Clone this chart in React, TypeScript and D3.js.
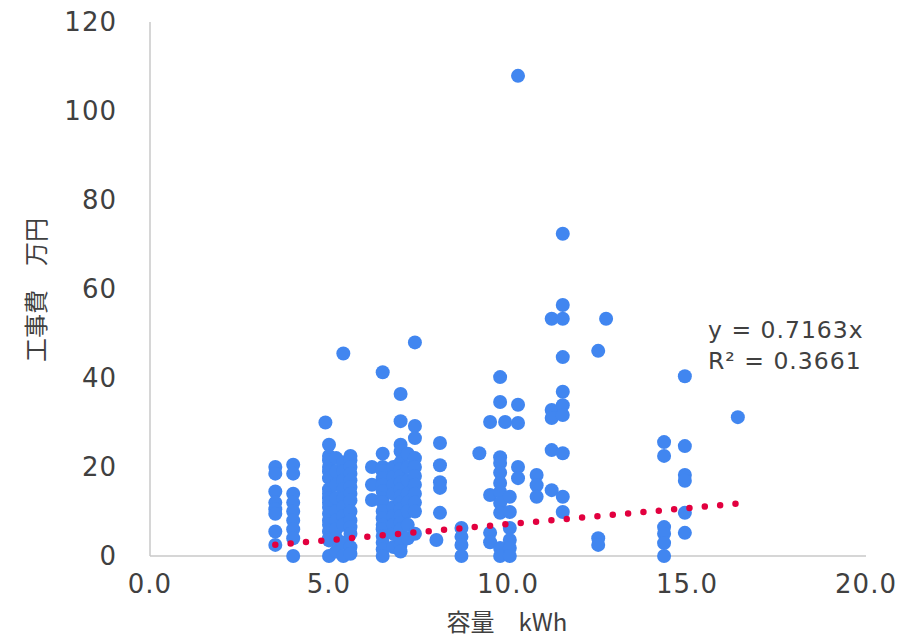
import React from "react";
import * as d3 from "d3";

// capacity (kWh) groups with their construction costs (万円)
const cap35 = [20, 18.5, 14.5, 12, 10.5, 9.5, 5.5, 2.5];
const cap40 = [20.5, 18.5, 14, 12, 10, 8, 6, 4, 0];
const cap49 = [30];
const cap50 = [25, 22.5, 21.5, 20, 19, 17.5, 15, 14, 13, 12, 11, 9.5, 8, 7, 5.5, 4, 3.5, 0];
const cap52 = [22, 19, 16, 13, 10, 8, 6, 4, 1];
const cap54 = [45.5, 21, 19, 17, 15, 13, 11, 9, 7, 3, 0];
const cap56 = [22.5, 21.5, 20, 18.5, 17, 15.5, 14, 12.5, 10, 8, 6.5, 5, 2, 0.5];
const cap62 = [20, 16, 12.6];
const cap65 = [41.3, 23, 20, 19, 17.5, 16, 14.5, 13, 12, 10, 8.5, 7, 6, 4.5, 3, 1.5, 0];
const cap68 = [20, 17.7, 16, 14, 11, 9, 7, 5, 2];
const cap70 = [36.4, 30.3, 25, 23.5, 21, 19.5, 18, 16.5, 15, 13.5, 12, 10.5, 9, 7.5, 6, 4, 2.5, 1];
const cap72 = [23, 20, 17, 14, 12, 10, 7, 4];
const cap74 = [48, 29.2, 26.5, 22, 20, 18, 16, 14, 12, 10, 5];
const cap80 = [3.6];
const cap81 = [25.4, 20.4, 16.6, 15.3, 9.7];
const cap88 = [6.3, 4.3, 2.5, 0];
const cap92 = [23.1];
const cap95 = [30.1, 13.7, 5.2, 3.1];
const cap98 = [40.2, 34.6, 22.2, 20.9, 18.7, 16.4, 14.4, 11.9, 9.7, 1.8, 0];
const cap99 = [30.1];
const cap101 = [13.3, 9.9, 6.3, 3.6, 1.8, 0];
const cap103 = [107.9, 34, 29.9, 20, 17.5];
const cap108 = [18.2, 15.9, 13.3];
const cap112 = [53.3, 32.8, 31, 23.8, 14.8];
const cap115 = [72.4, 56.4, 53.3, 44.7, 36.9, 33.9, 31.7, 23.1, 13.3, 9.9];
const cap125 = [46.1, 4, 2.5];
const cap127 = [53.3];
const cap144 = [25.6, 22.5, 6.5, 5, 2.9, 0];
const cap149 = [40.4, 24.7, 18.2, 16.9, 9.7, 5.2];
const cap164 = [31.2];

const groups: [number, number[]][] = [
  [3.5, cap35], [4.0, cap40], [4.9, cap49], [5.0, cap50], [5.2, cap52], [5.4, cap54],
  [5.6, cap56], [6.2, cap62], [6.5, cap65], [6.8, cap68], [7.0, cap70], [7.2, cap72],
  [7.4, cap74], [8.0, cap80], [8.1, cap81], [8.7, cap88], [9.2, cap92], [9.5, cap95],
  [9.78, cap98], [9.92, cap99], [10.05, cap101], [10.28, cap103], [10.8, cap108],
  [11.22, cap112], [11.53, cap115], [12.52, cap125], [12.74, cap127], [14.36, cap144],
  [14.94, cap149], [16.42, cap164],
];

const xTicks = [0, 5, 10, 15, 20];
const yTicks = [0, 20, 40, 60, 80, 100, 120];
const slope = 0.7163;
const eqLines = ["y = 0.7163x", "R² = 0.3661"];

export default function App() {
  const x = d3.scaleLinear().domain([0, 20]).range([150, 866]);
  const y = d3.scaleLinear().domain([0, 120]).range([556, 22]);
  const points = groups.flatMap(([c, ys]) => ys.map((v) => [c, v] as [number, number]));
  const xs = points.map((p) => p[0]);
  const xMin = d3.min(xs)!;
  const xMax = d3.max(xs)!;
  const trend = d3.line<number>().x((d) => x(d)).y((d) => y(slope * d))([xMin, xMax])!;
  const tickFont = "'DejaVu Sans', sans-serif";
  const cjkFont = "'Noto Sans CJK JP', sans-serif";
  return (
    <svg width={921} height={639} style={{ position: "absolute", left: 0, top: 0, background: "#fff" }}>
      <line x1={x(0)} x2={x(0)} y1={y(120)} y2={y(0)} stroke="#c8c8c8" strokeWidth={1.5} />
      <line x1={x(0)} x2={x(20)} y1={y(0)} y2={y(0)} stroke="#c8c8c8" strokeWidth={1.5} />
      {yTicks.map((t) => (
        <text key={t} x={117} y={y(t)} dy="0.36em" textAnchor="end" fontFamily={tickFont} fontSize={26} letterSpacing={1} fill="#404040">
          {t}
        </text>
      ))}
      {xTicks.map((t) => (
        <text key={t} x={x(t)} y={593} textAnchor="middle" fontFamily={tickFont} fontSize={26} letterSpacing={1} fill="#404040">
          {t.toFixed(1)}
        </text>
      ))}
      {points.map(([c, v], i) => (
        <circle key={i} cx={x(c)} cy={y(v)} r={7} fill="#4186f0" />
      ))}
      <path d={trend} fill="none" stroke="#e2003f" strokeWidth={6.5} strokeLinecap="round" strokeDasharray="0 15.4" />
      {eqLines.map((l, i) => (
        <text key={i} x={708} y={338 + i * 31} fontFamily={tickFont} fontSize={23.5} letterSpacing={1} fill="#404040">
          {l}
        </text>
      ))}
      <text x={507} y={631} textAnchor="middle" fontFamily={cjkFont} fontSize={24} fill="#404040">
        容量　kWh
      </text>
      <text transform={`translate(45,290) rotate(-90)`} textAnchor="middle" fontFamily={cjkFont} fontSize={24} fill="#404040">
        工事費　万円
      </text>
    </svg>
  );
}
